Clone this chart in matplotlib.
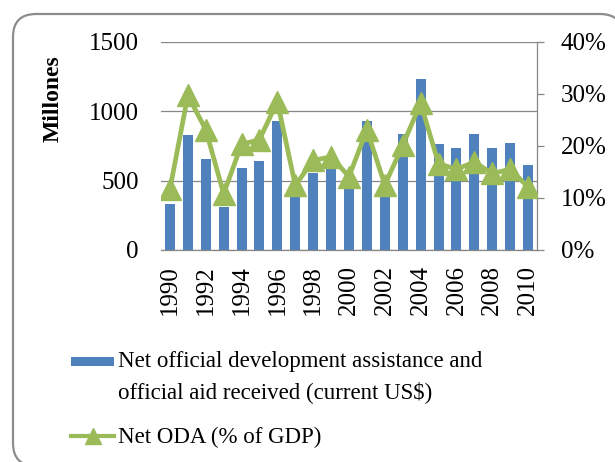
"""
Net ODA received: bars in millions of US$ and line as % of GDP, 1990-2010.
"""
import matplotlib
matplotlib.use("Agg")
import matplotlib.pyplot as plt
from matplotlib.patches import PathPatch, Rectangle
from matplotlib.path import Path
from matplotlib.lines import Line2D
from matplotlib.ticker import PercentFormatter

years = list(range(1990, 2011))
oda_millions = [329, 827, 654, 313, 589, 644, 930, 385, 558, 589, 457,
                930, 409, 837, 1233, 762, 733, 837, 733, 774, 615]
oda_pct_gdp = [11.7, 29.7, 23.1, 10.8, 20.3, 21.2, 28.5, 12.4, 17.2, 17.9, 14.1,
               23.1, 12.5, 20.1, 28.2, 16.6, 15.5, 16.9, 14.7, 15.5, 12.1]

bar_label_1 = "Net official development assistance and"
bar_label_2 = "official aid received (current US\\$)"
line_label = "Net ODA (% of GDP)"

BLUE = "#4F81BD"
GREEN = "#9BBB59"
GREY = "#878787"
W, H = 615, 462

plt.rcParams["font.family"] = ["Liberation Serif", "DejaVu Serif"]

fig = plt.figure(figsize=(W / 100, H / 100), dpi=100)

# rounded frame (pixel coords from top-left), running off the right and bottom edges
r = 23
left, top, right, bottom = 13, 14, 623, 466
pts = [(right, bottom), (left + r, bottom), (left, bottom), (left, bottom - r),
       (left, top + r), (left, top), (left + r, top),
       (right - r, top), (right, top), (right, top + r), (right, bottom)]
codes = [Path.MOVETO, Path.LINETO, Path.CURVE3, Path.CURVE3,
         Path.LINETO, Path.CURVE3, Path.CURVE3,
         Path.LINETO, Path.CURVE3, Path.CURVE3, Path.LINETO]
frame_path = Path([(px / 100, (H - py) / 100) for px, py in pts], codes)
fig.patches.append(PathPatch(frame_path, transform=fig.dpi_scale_trans,
                             facecolor="none", edgecolor="#8c8c8c", linewidth=1.6))

ax = fig.add_axes([161 / W, 1 - 250 / H, 376 / W, 208.3 / H])
x = list(range(len(years)))
ax.bar(x, oda_millions, width=0.56, color=BLUE, zorder=2)
ax.set_xlim(-0.5, len(years) - 0.5)
ax.set_ylim(0, 1500)
ax.set_yticks([0, 500, 1000, 1500])
ax.set_xticks(x[::2])
ax.set_xticklabels([str(y) for y in years[::2]], rotation=90, fontsize=18)
ax.tick_params(axis="x", length=0, pad=11)
ax.tick_params(axis="y", length=0, pad=16, labelsize=18)
ax.grid(axis="y", color=GREY, linewidth=0.9)
ax.set_axisbelow(True)
for side in ["left", "top", "right"]:
    ax.spines[side].set_visible(False)
ax.spines["bottom"].set_color(GREY)
ax.spines["bottom"].set_linewidth(0.9)
fig.text(53 / W, 1 - 99 / H, "Millones", fontsize=17, fontweight="bold",
         rotation=90, ha="center", va="center")

ax2 = ax.twinx()
ax2.plot(x, oda_pct_gdp, color=GREEN, linewidth=3.4, marker="^",
         markersize=16, markerfacecolor=GREEN, markeredgecolor=GREEN, zorder=3)
ax2.set_ylim(0, 40)
ax2.set_yticks([0, 10, 20, 30, 40])
ax2.yaxis.set_major_formatter(PercentFormatter(decimals=0))
ax2.tick_params(axis="y", direction="out", length=5, width=0.9, color=GREY,
                pad=12, labelsize=18)
for side in ["left", "top", "bottom"]:
    ax2.spines[side].set_visible(False)
ax2.spines["right"].set_color(GREY)
ax2.spines["right"].set_linewidth(0.9)

# legend drawn in figure pixels
fig.patches.append(Rectangle((71 / W, 1 - 366 / H), 43 / W, 9 / H,
                             transform=fig.transFigure, facecolor=BLUE,
                             edgecolor="none"))
fig.text(118 / W, 1 - 367 / H, bar_label_1, fontsize=16.5, va="baseline")
fig.text(118 / W, 1 - 398 / H, bar_label_2, fontsize=16.5, va="baseline")
fig.lines.append(Line2D([71 / W, 114 / W], [1 - 436 / H, 1 - 436 / H],
                        transform=fig.transFigure, color=GREEN, linewidth=3))
fig.lines.append(Line2D([92.5 / W], [1 - 436 / H], transform=fig.transFigure,
                        marker="^", markersize=11, color=GREEN, linestyle="none"))
fig.text(118 / W, 1 - 443 / H, line_label, fontsize=16.5, va="baseline")

fig.savefig("out.png", dpi=100)
